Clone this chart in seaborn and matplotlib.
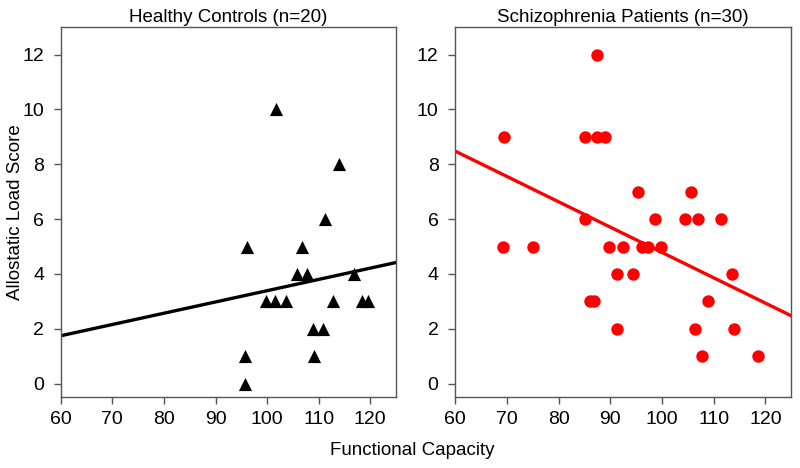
import numpy as np
import pandas as pd
import seaborn as sns
import matplotlib.pyplot as plt

# Healthy controls: functional capacity vs allostatic load
hc_capacity = [101.7, 113.9, 111.3, 96.1, 106.8, 105.8, 107.8, 116.9, 99.7, 101.5,
               103.6, 112.8, 118.4, 119.6, 109.0, 110.9, 95.7, 109.1, 95.8]
hc_load = [10, 8, 6, 5, 5, 4, 4, 4, 3, 3,
           3, 3, 3, 3, 2, 2, 1, 1, 0]

# Schizophrenia patients
sz_capacity = [69.5, 69.2, 75.0, 85.2, 87.4, 87.4, 88.9, 85.1, 86.1, 86.8,
               89.7, 92.4, 91.3, 94.3, 91.3, 95.4, 96.2, 97.3, 98.7, 99.9,
               104.5, 105.6, 106.9, 106.4, 107.8, 108.9, 111.5, 113.6, 114.0, 118.5]
sz_load = [9, 5, 5, 9, 12, 9, 9, 6, 3, 3,
           5, 5, 4, 4, 2, 7, 5, 5, 6, 5,
           6, 7, 6, 2, 1, 3, 6, 4, 2, 1]

panel_titles = ['Healthy Controls (n=20)', 'Schizophrenia Patients (n=30)']
x_ticks = [60, 70, 80, 90, 100, 110, 120]
y_ticks = [0, 2, 4, 6, 8, 10, 12]

sns.set_style("ticks")
plt.rcParams['font.family'] = ['Liberation Sans', 'DejaVu Sans']
plt.rcParams['text.color'] = 'black'
plt.rcParams['axes.labelcolor'] = 'black'

fig = plt.figure(figsize=(8, 4.68), dpi=100)
ax1 = fig.add_axes([0.076, 0.151, 0.419, 0.791])
ax2 = fig.add_axes([0.569, 0.151, 0.420, 0.791])

hc = pd.DataFrame({'capacity': hc_capacity, 'load': hc_load})
sz = pd.DataFrame({'capacity': sz_capacity, 'load': sz_load})

panels = [
    (ax1, hc, 'black', '^', 90),
    (ax2, sz, 'red', 'o', 80),
]

for (ax, df, color, marker, size), title in zip(panels, panel_titles):
    ax.set_xlim(60, 125)
    ax.set_ylim(-0.5, 13)
    sns.regplot(data=df, x='capacity', y='load', ax=ax, ci=None, truncate=False,
                color=color, marker=marker,
                scatter_kws={'s': size, 'linewidths': 0, 'alpha': 1, 'zorder': 3},
                line_kws={'linewidth': 2.4, 'zorder': 2})
    ax.set_xlim(60, 125)
    ax.set_ylim(-0.5, 13)
    ax.set_xticks(x_ticks)
    ax.set_yticks(y_ticks)
    ax.set_xlabel('')
    ax.set_ylabel('')
    ax.set_title(title, fontsize=13.5, pad=4, color='black')
    for sp in ax.spines.values():
        sp.set_visible(True)
        sp.set_color('#555555')
        sp.set_linewidth(1.0)
    ax.tick_params(axis='both', labelsize=14, length=5, width=1, color='#555555',
                   labelcolor='black', pad=5, top=False, right=False)
    ax.tick_params(axis='y', pad=7)

ax1.set_ylabel('Allostatic Load Score', fontsize=13.5, labelpad=-1)
fig.text(0.515, 0.038, 'Functional Capacity', ha='center', va='center', fontsize=13.5)

fig.savefig('out.png', dpi=100)
